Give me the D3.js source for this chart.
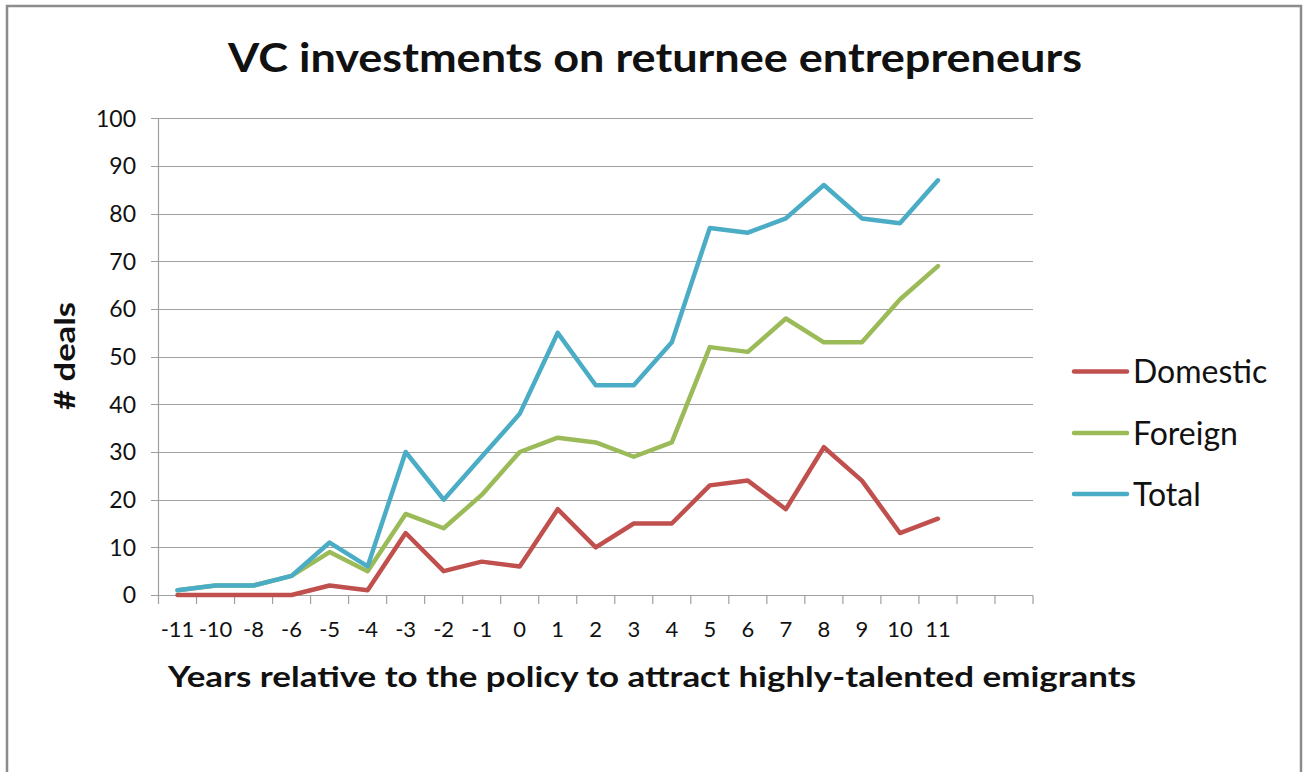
<!DOCTYPE html>
<html>
<head>
<meta charset="utf-8">
<script src="https://cdn.jsdelivr.net/npm/d3@7"></script>
<style>
  html, body { margin: 0; padding: 0; background: #ffffff; }
  svg { display: block; }
  text { font-family: Lato, "Open Sans", sans-serif; fill: #111; }
</style>
</head>
<body>
<svg id="chart" width="1309" height="772"></svg>
<script>
// ---- data ----
const categories = ["-11", "-10", "-8", "-6", "-5", "-4", "-3", "-2", "-1", "0", "1", "2", "3", "4", "5", "6", "7", "8", "9", "10", "11", "", " "];
const domestic = [0, 0, 0, 0, 2, 1, 13, 5, 7, 6, 18, 10, 15, 15, 23, 24, 18, 31, 24, 13, 16];
const foreign  = [1, 2, 2, 4, 9, 5, 17, 14, 21, 30, 33, 32, 29, 32, 52, 51, 58, 53, 53, 62, 69];
const total    = [1, 2, 2, 4, 11, 6, 30, 20, 29, 38, 55, 44, 44, 53, 77, 76, 79, 86, 79, 78, 87];
const seriesNames = ["Domestic", "Foreign", "Total"];
const seriesColors = ["#C0504D", "#9BBB59", "#4BACC6"];
const yTicks = [0, 10, 20, 30, 40, 50, 60, 70, 80, 90, 100];
const titleText = "VC investments on returnee entrepreneurs";
const xTitleText = "Years relative to the policy to attract  highly-talented emigrants";
const yTitleText = "# deals";

const svg = d3.select("#chart");

// outer frame
svg.append("rect")
  .attr("x", 7).attr("y", 6).attr("width", 1294).attr("height", 800)
  .attr("fill", "#fff").attr("stroke", "#8c8c8c").attr("stroke-width", 2.5);

const x = d3.scaleBand().domain(categories).range([158.5, 1033]).paddingInner(0).paddingOuter(0);
const y = d3.scaleLinear().domain([0, 100]).range([595, 118.3]);

// gridlines
svg.append("g").selectAll("line").data(yTicks).join("line")
  .attr("x1", 151).attr("x2", 1033)
  .attr("y1", d => Math.round(y(d)) + 0.5).attr("y2", d => Math.round(y(d)) + 0.5)
  .attr("stroke", "#a0a0a0").attr("stroke-width", 1.2);

// y axis line
svg.append("line")
  .attr("x1", 158.5).attr("x2", 158.5).attr("y1", y(100)).attr("y2", y(0))
  .attr("stroke", "#a0a0a0").attr("stroke-width", 1.2);

// x tick marks at band boundaries
const boundaries = categories.map(c => x(c)).concat([x.range()[1]]);
svg.append("g").selectAll("line").data(boundaries).join("line")
  .attr("x1", d => d).attr("x2", d => d)
  .attr("y1", Math.round(y(0)) + 0.5).attr("y2", Math.round(y(0)) + 9)
  .attr("stroke", "#a0a0a0").attr("stroke-width", 1.2);

// y tick labels
svg.append("g").selectAll("text").data(yTicks).join("text")
  .attr("x", 136).attr("y", d => y(d))
  .attr("dy", "0.36em")
  .attr("text-anchor", "end")
  .attr("font-size", 23)
  .text(d => d);

// x tick labels
svg.append("g").selectAll("text").data(categories.filter(c => c.trim() !== "")).join("text")
  .attr("x", d => x(d) + x.bandwidth() / 2)
  .attr("y", 637)
  .attr("text-anchor", "middle")
  .attr("font-size", 22)
  .text(d => d);

// lines
const allSeries = [domestic, foreign, total];
const line = d3.line()
  .x((d, i) => x(categories[i]) + x.bandwidth() / 2)
  .y(d => y(d));

allSeries.forEach((s, k) => {
  svg.append("path")
    .datum(s)
    .attr("d", line)
    .attr("fill", "none")
    .attr("stroke", seriesColors[k])
    .attr("stroke-width", 4.5)
    .attr("stroke-linejoin", "round")
    .attr("stroke-linecap", "round");
});

// title
svg.append("text")
  .attr("x", 655).attr("y", 72)
  .attr("text-anchor", "middle")
  .attr("font-size", 40).attr("font-weight", "bold")
  .attr("textLength", 854).attr("lengthAdjust", "spacingAndGlyphs")
  .text(titleText);

// x axis title
svg.append("text")
  .attr("x", 652).attr("y", 687)
  .attr("text-anchor", "middle")
  .attr("font-size", 29).attr("font-weight", "bold")
  .attr("textLength", 968).attr("lengthAdjust", "spacingAndGlyphs")
  .text(xTitleText);

// y axis title
svg.append("text")
  .attr("transform", "translate(75,356) rotate(-90)")
  .attr("text-anchor", "middle")
  .attr("font-size", 29).attr("font-weight", "bold")
  .attr("textLength", 108).attr("lengthAdjust", "spacingAndGlyphs")
  .text(yTitleText);

// legend
const legendY = [371.5, 433, 494];
const lg = svg.append("g");
seriesNames.forEach((name, k) => {
  lg.append("line")
    .attr("x1", 1074).attr("x2", 1127)
    .attr("y1", legendY[k]).attr("y2", legendY[k])
    .attr("stroke", seriesColors[k]).attr("stroke-width", 4.5)
    .attr("stroke-linecap", "round");
  lg.append("text")
    .attr("x", 1133).attr("y", legendY[k])
    .attr("dy", "0.36em")
    .attr("font-size", 32)
    .text(name);
});
</script>
</body>
</html>
